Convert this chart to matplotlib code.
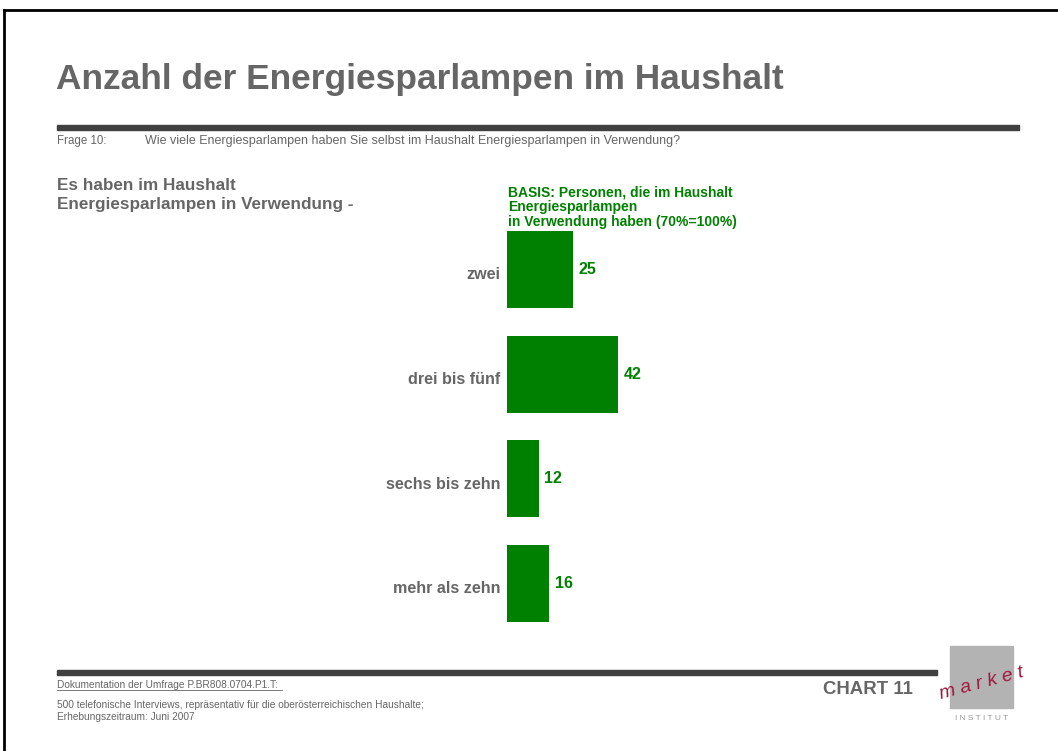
import matplotlib.pyplot as plt
from matplotlib.patches import Rectangle

# -- DATA -- #
categories = ['zwei', 'drei bis fünf', 'sechs bis zehn', 'mehr als zehn']
values = [25, 42, 12, 16]

title = 'Anzahl der Energiesparlampen im Haushalt'
frage_nr = 'Frage 10:'
frage = 'Wie viele Energiesparlampen haben Sie selbst im Haushalt Energiesparlampen in Verwendung?'
subhead = 'Es haben im Haushalt\nEnergiesparlampen in Verwendung -'
basis = 'BASIS: Personen, die im Haushalt\nEnergiesparlampen\nin Verwendung haben (70%=100%)'
doku = 'Dokumentation der Umfrage P.BR808.0704.P1.T:'
footnote = ('500 telefonische Interviews, repräsentativ für die oberösterreichischen Haushalte;\n'
            'Erhebungszeitraum: Juni 2007')
chart_no = 'CHART 11'

GREEN = '#008000'
GRAY = '#666666'
W, H = 1058, 751

plt.rcParams['font.family'] = ['Liberation Sans', 'DejaVu Sans']

fig = plt.figure(figsize=(W / 100, H / 100), dpi=100)


def px(x, y):
    # pixel coords (top-left origin) -> figure fraction
    return x / W, 1 - y / H


# frame (left and top lines only)
fig.add_artist(plt.Line2D([4 / W, 4 / W], [0, 1 - 10 / H], color='black', lw=2, transform=fig.transFigure))
fig.add_artist(plt.Line2D([4 / W, 1], [1 - 10 / H, 1 - 10 / H], color='black', lw=2, transform=fig.transFigure))

# title + rules
fig.text(*px(56, 80), title, fontsize=25.4, fontweight='bold', color=GRAY, va='center')
fig.add_artist(Rectangle(px(57, 130), (1019 - 57) / W, 5 / H, color='#404040', transform=fig.transFigure))
fig.text(*px(57, 141), frage_nr, fontsize=8.3, color=GRAY, va='center')
fig.text(*px(145, 141), frage, fontsize=9, color=GRAY, va='center')

fig.text(*px(57, 195), subhead, fontsize=12.3, fontweight='bold', color=GRAY, va='center', linespacing=1.25)
fig.text(*px(508, 207), basis, fontsize=10, fontweight='bold', color=GREEN, va='center', linespacing=1.05)

# bars
ax = fig.add_axes([507 / W, 1 - 636 / H, 265 / W, 419 / H])
y = range(len(categories))
ax.barh(y, values, height=0.735, color=GREEN)
ax.set_xlim(0, 100)
ax.set_ylim(len(categories) - 0.5, -0.5)
ax.axis('off')
for i, (c, v) in enumerate(zip(categories, values)):
    ax.text(-2.6, i + 0.05, c, ha='right', va='center', fontsize=11.6, fontweight='bold', color=GRAY)
    ax.text(v + 2.0, i, str(v), ha='left', va='center', fontsize=11.6, fontweight='bold', color=GREEN)

# footer
fig.add_artist(Rectangle(px(57, 675), (937 - 57) / W, 5 / H, color='#404040', transform=fig.transFigure))
fig.text(*px(57, 685), doku, fontsize=7.3, color=GRAY, va='center')
fig.add_artist(plt.Line2D([57 / W, 282 / W], [1 - 690 / H, 1 - 690 / H], color=GRAY, lw=0.6, transform=fig.transFigure))
fig.text(*px(57, 711), footnote, fontsize=7.3, color=GRAY, va='center', linespacing=1.15)
fig.text(*px(823, 689), chart_no, fontsize=13.4, fontweight='bold', color=GRAY, va='center')

# logo
fig.add_artist(Rectangle(px(950, 708), 63 / W, 62 / H, color='#b3b3b3', transform=fig.transFigure))
fig.text(*px(982, 683), 'm a r k e t', fontsize=14, style='italic', color='#a01840', ha='center', va='center',
         rotation=15)
fig.text(*px(982, 719), 'I N S T I T U T', fontsize=6, color='#999999', ha='center', va='center')

fig.savefig('out.png', dpi=100)
